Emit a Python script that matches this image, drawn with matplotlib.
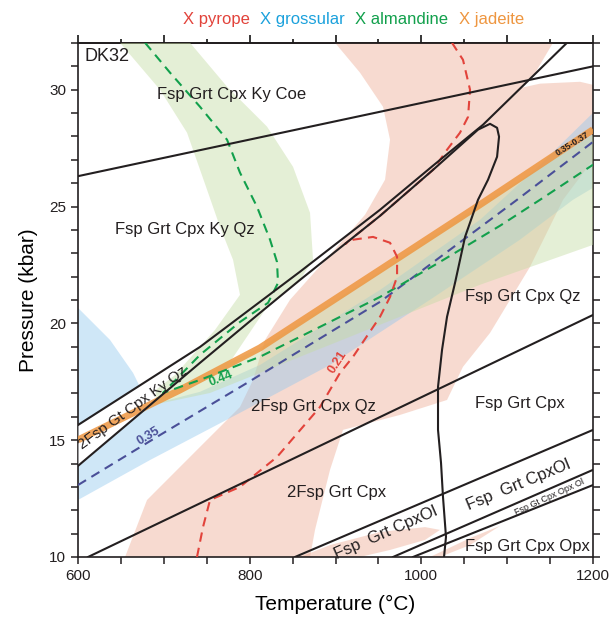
import numpy as np
import matplotlib
matplotlib.use('Agg')
import matplotlib.pyplot as plt
from matplotlib.ticker import FixedLocator, FixedFormatter, MultipleLocator

plt.rcParams['font.family'] = ['Liberation Sans', 'DejaVu Sans']

##############################################################
# data, T in degC and P in kbar, read off the section

# black field boundaries
ky_coe_T = [600, 1200]
ky_coe_P = [26.3, 31.0]

upper_T = [600, 742.1, 858.6, 951.8, 1013.6, 1071.8, 1169.7]
upper_P = [15.65, 18.99, 22.21, 24.86, 26.75, 28.50, 32.01]

# lower Ky-Qz line, turns back into the steep curve
lower_T = [600, 742.1, 812.0, 858.6, 951.8, 1013.6, 1066.0, 1080.0, 1088.2, 1090.5,
           1088.2, 1077.7, 1066.0, 1050.9, 1039.2, 1029.9, 1024.1, 1019.4, 1019.4,
           1022.9, 1025.2, 1028.7, 1026.4]
lower_P = [13.90, 18.31, 20.45, 21.86, 24.60, 26.57, 28.29, 28.54, 28.37, 27.99,
           27.13, 26.15, 25.29, 23.70, 21.73, 20.28, 18.87, 17.28, 15.44,
           14.03, 12.57, 10.86, 10.00]

qz_T = [611.7, 1200]
qz_P = [10.0, 20.36]

ol1_T = [852.8, 1200]
ol1_P = [10.0, 15.44]
ol2_T = [967.0, 1200]
ol2_P = [10.0, 13.73]
opx_T = [990.3, 1200]
opx_P = [10.0, 13.08]

# isopleths
alm_T = [678.1, 707.2, 742.1, 773.6, 788.7, 808.5, 823.7, 831.8, 833.0, 821.4,
         788.7, 742.1, 699.0, 742.1, 812.0, 881.9, 951.8, 1021.7, 1091.7, 1138.3, 1200]
alm_P = [32.01, 30.73, 29.27, 27.86, 26.45, 24.99, 23.58, 22.63, 21.73, 20.88,
         20.06, 18.65, 17.02, 17.58, 18.57, 19.85, 21.13, 22.63, 24.18, 25.29, 26.79]

grs_T = [600, 695.5, 796.9, 951.8, 1111.5, 1200]
grs_P = [13.08, 15.22, 17.45, 20.92, 25.29, 27.77]

jd_T = [600, 718.8, 812.0, 951.8, 1068.3, 1200]
jd_P = [15.01, 17.15, 18.95, 22.29, 25.08, 28.29]

prp_T = [738.6, 745.6, 753.8, 788.7, 831.8, 881.9, 905.2, 920.4, 951.8, 963.5,
         971.7, 971.7, 963.5, 943.7, 920.4, 911.1, 951.8, 1013.6, 1029.9, 1045.0,
         1054.4, 1056.7, 1048.5, 1035.7]
prp_P = [10.00, 11.28, 12.44, 13.00, 14.28, 16.42, 17.88, 18.57, 20.28, 21.13,
         21.99, 22.85, 23.45, 23.70, 23.58, 23.40, 24.60, 26.57, 27.43, 28.16,
         28.84, 30.00, 31.28, 32.01]

# uncertainty envelopes
pink_T = [654.8, 680.4, 742.1, 788.7, 803.9, 817.9, 847.0, 893.6, 934.4, 957.7,
          963.5, 955.3, 928.5, 899.4, 1153.4, 1130.1, 1117.3, 1138.3, 1184.9, 1200,
          1200, 1165.1, 1126.6, 1080.0, 1048.5, 1029.9, 975.1, 908.7, 893.6, 876.1, 870.3]
pink_P = [10.0, 12.44, 14.71, 16.42, 17.58, 19.29, 21.01, 22.93, 24.65, 26.15,
          27.86, 29.27, 30.73, 32.01, 32.01, 30.56, 30.09, 30.26, 30.34, 30.21,
          27.00, 25.29, 22.42, 19.59, 18.14, 16.72, 16.08, 15.44, 13.73, 11.16, 10.0]

pink2_T = [858.6, 893.6, 951.8, 1004.3, 1021.7, 1004.3, 963.5, 928.5]
pink2_P = [10.0, 10.51, 11.07, 11.28, 11.16, 10.73, 10.30, 10.0]
pink3_T = [1010.1, 1056.7, 1091.7, 1056.7, 1021.7]
pink3_P = [10.0, 10.81, 11.33, 10.51, 10.0]

blue_T = [600, 637.3, 664.1, 675.7, 683.9, 742.1, 812.0, 951.8, 1068.3, 1138.3, 1200,
          1200, 1176.7, 1114.9, 1010.1, 893.6, 788.7, 683.9, 600]
blue_P = [20.66, 19.29, 17.88, 17.02, 16.51, 17.07, 18.22, 21.43, 24.43, 26.79, 29.01,
          25.80, 25.29, 23.58, 21.01, 18.22, 16.17, 14.15, 12.44]

green_T = [648.9, 695.5, 727.0, 750.3, 765.4, 780.6, 788.7, 759.6, 713.0, 660.6,
           753.8, 812.0, 951.8, 1068.3, 1200, 1200, 1068.3, 951.8, 812.0, 777.1,
           817.9, 858.6, 873.8, 870.3, 850.5, 820.2, 773.6, 730.5]
green_P = [32.01, 30.00, 28.16, 25.72, 24.13, 22.72, 21.22, 19.72, 17.79, 16.30,
           17.02, 17.88, 19.94, 21.65, 23.36, 28.07, 25.08, 22.21, 18.95, 18.35,
           20.58, 21.86, 22.72, 24.73, 26.70, 28.42, 30.13, 32.01]

x_ticks = [600, 650, 700, 750, 800, 850, 900, 950, 1000, 1050, 1100, 1150, 1200]
x_tick_labels = ['600', '', '', '', '800', '', '', '', '1000', '', '', '', '1200']
y_ticks = list(range(10, 33))
y_tick_labels = [str(v) if v % 5 == 0 else '' for v in y_ticks]

##############################################################

RED = '#e2433b'
BLUE = '#1ba1dc'
GREEN = '#12a04c'
ORANGE = '#ee9640'
PURPLE = '#4a4f98'

fig = plt.figure(figsize=(6.12, 6.24), dpi=100)
ax = fig.add_axes([0.1275, 0.1074, 0.8415, 0.8237])
ax.set_xlim(600, 1200)
ax.set_ylim(10, 32)

# envelopes
ax.fill(pink_T, pink_P, color='#eca991', alpha=0.42, lw=0, zorder=1)
ax.fill(pink2_T, pink2_P, color='#eca991', alpha=0.42, lw=0, zorder=1)
ax.fill(pink3_T, pink3_P, color='#eca991', alpha=0.42, lw=0, zorder=1)
ax.fill(blue_T, blue_P, color='#8ec6ee', alpha=0.42, lw=0, zorder=2)
ax.fill(green_T, green_P, color='#c5dca4', alpha=0.45, lw=0, zorder=3)

# narrow Ky-Qz field is left blank
tt = np.linspace(600, 690, 40)
ax.fill_between(tt, np.interp(tt, lower_T[:7], lower_P[:7]), np.interp(tt, upper_T, upper_P),
                color='white', lw=0, zorder=4)

# jadeite band
ax.plot(jd_T, jd_P, color=ORANGE, lw=5, alpha=0.85, solid_capstyle='butt', zorder=5)

dash = (0, (4.5, 3))
ax.plot(grs_T, grs_P, color=PURPLE, lw=1.5, ls=dash, zorder=6)
ax.plot(alm_T, alm_P, color=GREEN, lw=1.5, ls=dash, zorder=6)
ax.plot(prp_T, prp_P, color=RED, lw=1.5, ls=dash, zorder=6)

for T, P in [(ky_coe_T, ky_coe_P), (upper_T, upper_P), (lower_T, lower_P),
             (qz_T, qz_P), (ol1_T, ol1_P), (ol2_T, ol2_P), (opx_T, opx_P)]:
    ax.plot(T, P, color='#231f20', lw=1.5, zorder=7, solid_joinstyle='round')

# field labels
kw = dict(ha='center', va='center', color='#231f20', zorder=8, rotation_mode='anchor')
ax.text(608, 31.41, 'DK32', fontsize=13, ha='left', va='center', color='#231f20', zorder=8)
ax.text(779.4, 29.79, 'Fsp Grt Cpx Ky Coe', fontsize=12, **kw)
ax.text(724.7, 24.0, 'Fsp Grt Cpx Ky Qz', fontsize=12, **kw)
ax.text(664.1, 16.38, '2Fsp Gt Cpx Ky Qz', fontsize=11, rotation=36, **kw)
ax.text(873.8, 16.42, '2Fsp Grt Cpx Qz', fontsize=12, **kw)
ax.text(1118.4, 21.13, 'Fsp Grt Cpx Qz', fontsize=12, **kw)
ax.text(1115.0, 16.55, 'Fsp Grt Cpx', fontsize=12, **kw)
ax.text(901.7, 12.74, '2Fsp Grt Cpx', fontsize=12, **kw)
ax.text(958.8, 11.03, 'Fsp  Grt CpxOl', fontsize=12, rotation=23.7, **kw)
ax.text(1112.6, 13.08, 'Fsp  Grt CpxOl', fontsize=12, rotation=22.4, **kw)
ax.text(1149.9, 12.57, 'Fsp Gt Cpx Opx Ol', fontsize=6.5, rotation=24.7, **kw)
ax.text(1123.1, 10.43, 'Fsp Grt Cpx Opx', fontsize=12, **kw)

# isopleth labels
ax.text(902.9, 18.35, '0.21', fontsize=9, fontweight='bold', color=RED, rotation=57,
        ha='center', va='center', rotation_mode='anchor', zorder=8)
ax.text(766.6, 17.62, '0.44', fontsize=9, fontweight='bold', color=GREEN, rotation=21,
        ha='center', va='center', rotation_mode='anchor', zorder=8)
ax.text(681.6, 15.18, '0.35', fontsize=9, fontweight='bold', color=PURPLE, rotation=31,
        ha='center', va='center', rotation_mode='anchor', zorder=8)
ax.text(1175.5, 27.69, '0.35-0.37', fontsize=6.5, fontweight='bold', color='#231f20',
        rotation=32, ha='center', va='center', rotation_mode='anchor', zorder=8)

# axes, ticks
ax.xaxis.set_major_locator(FixedLocator(x_ticks))
ax.xaxis.set_major_formatter(FixedFormatter(x_tick_labels))
ax.yaxis.set_major_locator(FixedLocator(y_ticks))
ax.yaxis.set_major_formatter(FixedFormatter(y_tick_labels))
ax.tick_params(axis='both', which='major', direction='out', length=5, width=1.1,
               labelsize=11, colors='#231f20')
ax.tick_params(axis='y', right=True)
for s in ax.spines.values():
    s.set_linewidth(1.2)
    s.set_color('#231f20')

sec = ax.secondary_xaxis('top')
sec.xaxis.set_major_locator(MultipleLocator(100))
sec.xaxis.set_minor_locator(MultipleLocator(50))
sec.tick_params(which='major', direction='out', length=6, width=1.1, labeltop=False)
sec.tick_params(which='minor', direction='out', length=3, width=1.1)
sec.spines['top'].set_linewidth(1.2)

ax.set_xlabel('Temperature (\u00b0C)', fontsize=15, labelpad=9)
ax.set_ylabel('Pressure (kbar)', fontsize=15, labelpad=8)

# legend of the isopleths, as a coloured title line
fig.text(0.299, 0.968, 'X pyrope', color=RED, fontsize=12, va='center')
fig.text(0.425, 0.968, 'X grossular', color=BLUE, fontsize=12, va='center')
fig.text(0.580, 0.968, 'X almandine', color=GREEN, fontsize=12, va='center')
fig.text(0.750, 0.968, 'X jadeite', color=ORANGE, fontsize=12, va='center')

fig.savefig('out.png', dpi=100)
